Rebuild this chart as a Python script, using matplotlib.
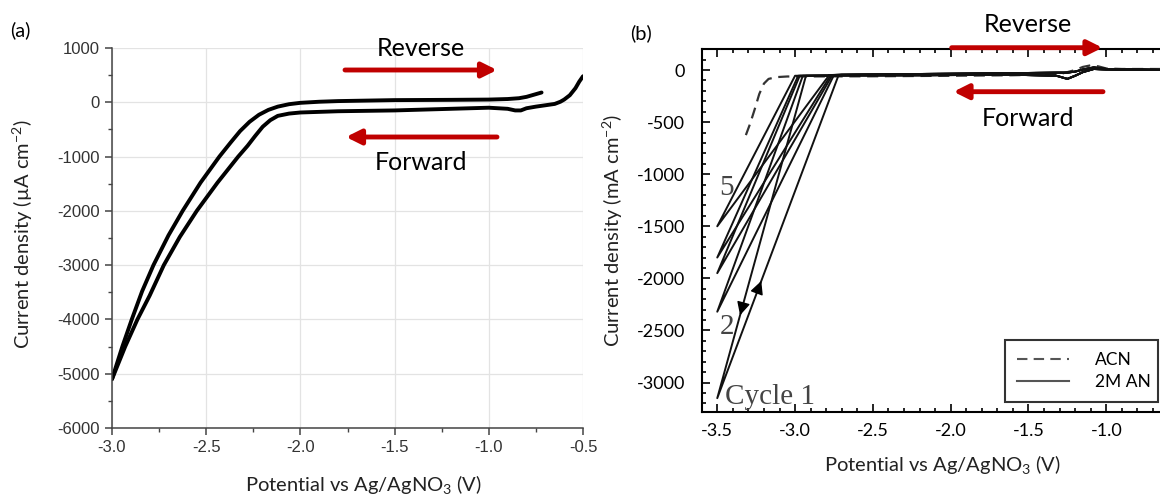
import matplotlib.pyplot as plt
from matplotlib.ticker import MultipleLocator
from matplotlib.lines import Line2D
from matplotlib.patches import FancyArrowPatch

# ---- data, panel (a) ----
rev_x = [-3.0, -2.945, -2.895, -2.84, -2.78, -2.7, -2.625, -2.53, -2.43, -2.37,
         -2.32, -2.27, -2.22, -2.17, -2.12, -2.06, -2.0, -1.9, -1.8, -1.5,
         -1.2, -1.0, -0.9, -0.84, -0.8, -0.76, -0.72]
rev_y = [-5100, -4500, -4000, -3480, -3000, -2450, -2000, -1480, -1000, -740,
         -530, -360, -230, -140, -80, -35, -10, 10, 22, 40,
         45, 50, 60, 75, 100, 140, 180]
fwd_x = [-0.5, -0.52, -0.54, -0.57, -0.6, -0.62, -0.65, -0.7, -0.75, -0.8,
         -0.83, -0.86, -0.9, -1.0, -1.2, -1.5, -1.8, -2.0, -2.06, -2.12,
         -2.16, -2.2, -2.24, -2.28, -2.33, -2.44, -2.55, -2.64, -2.725, -2.8,
         -2.865, -2.93, -3.0]
fwd_y = [480, 380, 260, 130, 50, 10, -30, -55, -80, -110,
         -150, -150, -120, -100, -120, -150, -165, -188, -208, -250,
         -330, -450, -620, -800, -1000, -1480, -2000, -2480, -3000, -3560,
         -4000, -4500, -5100]

# ---- data, panel (b) ----
acn_x = [-0.6, -0.9, -1.0, -1.05, -1.1, -1.15, -1.2, -1.3, -1.6, -2.0,
         -2.5, -3.05, -3.12, -3.17, -3.2, -3.23, -3.26, -3.29, -3.33]
acn_y = [10, 10, 15, 35, 45, 30, 0, -40, -50, -55,
         -60, -62, -68, -85, -130, -230, -380, -520, -680]

cycle_tips = [-3150, -2320, -1950, -1800, -1500]
cycle_fwd_top = [-2.93, -2.95, -2.97, -2.98, -3.00]
cycle_rev_top = [-2.72, -2.75, -2.76, -2.77, -2.78]
an_flat_x = [-0.6, -1.0, -1.08, -1.15, -1.2, -1.25, -1.32, -1.6, -2.2, -2.7]
an_fwd_y = [0, 5, 10, -20, -55, -85, -55, -45, -50, -52]
an_rev_y = [0, 10, 25, 5, -15, -25, -25, -30, -38, -45]

plt.rcParams['font.family'] = ['Lato', 'DejaVu Sans']
plt.rcParams['mathtext.default'] = 'regular'

fig = plt.figure(figsize=(11.6, 4.96), dpi=100)
red = '#C00000'

# ================= panel (a) =================
ax1 = fig.add_axes([112 / 1160, 1 - 428 / 496, 471 / 1160, 380 / 496])
ax1.plot(rev_x, rev_y, color='black', lw=2.8, solid_capstyle='round', solid_joinstyle='round')
ax1.plot(fwd_x, fwd_y, color='black', lw=2.8, solid_capstyle='round', solid_joinstyle='round')
ax1.set_xlim(-3.0, -0.5)
ax1.set_ylim(-6000, 1000)
ax1.xaxis.set_major_locator(MultipleLocator(0.5))
ax1.xaxis.set_minor_locator(MultipleLocator(0.25))
ax1.yaxis.set_major_locator(MultipleLocator(1000))
ax1.yaxis.set_minor_locator(MultipleLocator(500))
ax1.grid(True, which='major', color='#e3e3e3', lw=0.9)
ax1.set_axisbelow(True)
for s in ['top', 'right']:
    ax1.spines[s].set_visible(False)
for s in ['left', 'bottom']:
    ax1.spines[s].set_color('#444444')
    ax1.spines[s].set_linewidth(1.1)
ax1.tick_params(which='major', length=5, width=1.1, color='#444444', pad=4,
                labelsize=12, labelcolor='#333333')
ax1.tick_params(which='minor', length=3, width=1, color='#444444')
ax1.set_xticklabels([f'{v:.1f}' for v in ax1.get_xticks()], family='Liberation Sans')
ax1.set_yticklabels([f'{int(v)}' for v in ax1.get_yticks()], family='Liberation Sans')
ax1.set_ylabel('Current density (µA cm$^{-2}$)', fontsize=14.5, color='#222222')
ax1.yaxis.set_label_coords(-0.163, 0.51)
fig.text(363 / 1160, 1 - 485 / 496, 'Potential vs Ag/AgNO$_3$ (V)', fontsize=14.5,
         color='#222222', ha='center', va='center')
fig.text(20 / 1160, 1 - 30 / 496, '(a)', fontsize=14.5, ha='center', va='center')

# ================= panel (b) =================
ax2 = fig.add_axes([701.7 / 1160, 1 - 411.7 / 496, 466.8 / 1160, 362.5 / 496])
ax2.plot(acn_x, acn_y, color='#333333', lw=1.6, ls=(0, (5, 3)))
for tip, ft, rt in zip(cycle_tips, cycle_fwd_top, cycle_rev_top):
    xs = an_flat_x + [ft, -3.5, rt] + an_flat_x[::-1]
    ys = an_fwd_y + [-55, tip, -48] + an_rev_y[::-1]
    ax2.plot(xs, ys, color='#111111', lw=1.4)
# direction arrowheads on cycle 1
t_dn = (-2380 - cycle_tips[0]) / (-55 - cycle_tips[0])
t_up = (-2000 - cycle_tips[0]) / (-48 - cycle_tips[0])
p_dn = (-3.5 + t_dn * (cycle_fwd_top[0] + 3.5), -2380)
p_up = (-3.5 + t_up * (cycle_rev_top[0] + 3.5), -2000)
ax2.annotate('', xy=p_dn, xytext=(p_dn[0] + 0.03 * (cycle_fwd_top[0] + 3.5), p_dn[1] + 0.03 * (-55 - cycle_tips[0])),
             arrowprops=dict(arrowstyle='-|>', color='black', lw=1, mutation_scale=20))
ax2.annotate('', xy=p_up, xytext=(p_up[0] - 0.03 * (cycle_rev_top[0] + 3.5), p_up[1] - 0.03 * (-48 - cycle_tips[0])),
             arrowprops=dict(arrowstyle='-|>', color='black', lw=1, mutation_scale=20))

ax2.set_xlim(-3.6, -0.6)
ax2.set_ylim(-3280, 200)
ax2.xaxis.set_minor_locator(MultipleLocator(0.1))
ax2.yaxis.set_minor_locator(MultipleLocator(100))
for s in ax2.spines.values():
    s.set_linewidth(1.5)
ax2.tick_params(which='both', direction='in', top=True, right=True, width=1.2)
ax2.tick_params(which='major', length=6, labelsize=13)
ax2.tick_params(axis='x', which='major', pad=8)
ax2.tick_params(axis='y', which='major', pad=12)
ax2.tick_params(which='minor', length=3)
ax2.set_xticks([-3.5, -3.0, -2.5, -2.0, -1.5, -1.0])
ax2.set_xticklabels(['-3.5', '-3.0', '-2.5', '-2.0', '-1.5', '-1.0'])
ax2.set_yticks([0, -500, -1000, -1500, -2000, -2500, -3000])
ax2.set_yticklabels(['0', '-500', '-1000', '-1500', '-2000', '-2500', '-3000'])
ax2.set_ylabel('Current density (mA cm$^{-2}$)', fontsize=14.5, color='#222222')
ax2.yaxis.set_label_coords(-0.164, 0.5)
fig.text(942 / 1160, 1 - 465 / 496, 'Potential vs Ag/AgNO$_3$ (V)', fontsize=14.5,
         color='#222222', ha='center', va='center')
fig.text(641 / 1160, 1 - 33 / 496, '(b)', fontsize=14.5, ha='center', va='center')

serif = dict(family='Liberation Serif', color='#444444', fontsize=21)
ax2.text(-3.485, -1130, '5', ha='left', va='center', **serif)
ax2.text(-3.485, -2470, '2', ha='left', va='center', **serif)
ax2.text(-3.45, -3140, 'Cycle 1', ha='left', va='center', **serif)

handles = [Line2D([], [], color='#555555', lw=1.5, ls=(0, (5, 3))),
           Line2D([], [], color='#555555', lw=1.5)]
leg = ax2.legend(handles, ['ACN', '2M AN'], loc='lower left',
                 bbox_to_anchor=(1004.5 / 1160, 1 - 402 / 496, 153 / 1160, 0.13),
                 bbox_transform=fig.transFigure, mode='expand', fancybox=False,
                 edgecolor='#333333', framealpha=1, fontsize=12.5, handlelength=3.0,
                 handletextpad=1.5, borderpad=0.7, labelspacing=0.35, borderaxespad=0)
leg.get_frame().set_linewidth(1.5)

# ================= red sweep arrows and labels (figure level, on top) =================
sweep_arrows = [((345, 70), (497, 70)), ((497, 137), (346, 137)),
                ((951.7, 47.7), (1102.5, 47.7)), ((1103, 91.7), (953.5, 91.7))]
for (x0, y0), (x1, y1) in sweep_arrows:
    fig.add_artist(FancyArrowPatch((x0 / 1160, 1 - y0 / 496), (x1 / 1160, 1 - y1 / 496),
                                   transform=fig.transFigure, arrowstyle='-|>', color=red,
                                   lw=3.5, mutation_scale=22, shrinkA=0, shrinkB=0, zorder=5))

fig.text(421 / 1160, 1 - 48 / 496, 'Reverse', fontsize=18, ha='center', va='center')
fig.text(421 / 1160, 1 - 163 / 496, 'Forward', fontsize=18, ha='center', va='center')
fig.text(1028 / 1160, 1 - 25 / 496, 'Reverse', fontsize=18, ha='center', va='center')
fig.text(1028 / 1160, 1 - 118 / 496, 'Forward', fontsize=18, ha='center', va='center')

fig.savefig('out.png', dpi=100)
